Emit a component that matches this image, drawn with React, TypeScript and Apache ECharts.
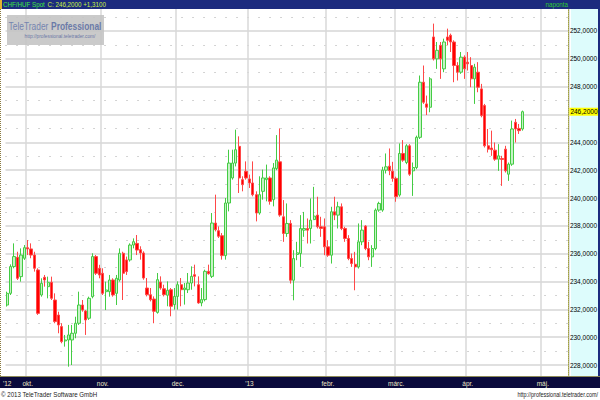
import React, { useEffect, useRef } from "react";
import * as echarts from "echarts";

// ---- trading calendar (weekdays between start and end, minus holidays) ----
const START_DATE = "2012-09-21";
const END_DATE = "2013-05-10";
const HOLIDAYS = ["2012-10-23"];

function buildDates(): string[] {
  const out: string[] = [];
  const d = new Date(START_DATE + "T00:00:00Z");
  const end = new Date(END_DATE + "T00:00:00Z");
  while (d <= end) {
    const wd = d.getUTCDay();
    const s = d.toISOString().slice(0, 10);
    if (wd !== 0 && wd !== 6 && HOLIDAYS.indexOf(s) < 0) out.push(s);
    d.setUTCDate(d.getUTCDate() + 1);
  }
  return out;
}
const dates = buildDates();

const MONTH_LABELS: Record<string, string> = {
  "2012-10": "okt.", "2012-11": "nov.", "2012-12": "dec.", "2013-01": "'13",
  "2013-02": "febr.", "2013-03": "márc.", "2013-04": "ápr.", "2013-05": "máj.",
};
const FIRST_LABEL = "'12";

// ---- OHLC (daily, CHF/HUF) ----
const open = [
  232.31, 233.15, 235.07, 235.74, 234.35, 235.67, 236.43, 236.34, 235.9, 234.83,
  233.03, 234.3, 233.63, 233.94, 232.67, 231.59, 230.76, 229.73, 229.8, 229.8,
  230.28, 231.0, 232.31, 231.88, 231.36, 232.91, 235.79, 234.95, 234.59, 233.27,
  233.27, 234.11, 233.15, 234.11, 236.03, 235.55, 235.55, 236.62, 236.74, 236.29,
  236.05, 233.53, 233.05, 232.74, 231.78, 233.96, 233.48, 233.01, 233.41, 232.34,
  232.93, 233.77, 233.41, 233.41, 233.89, 234.49, 233.77, 232.46, 232.7, 234.73,
  234.37, 238.2, 237.65, 237.29, 235.86, 239.64, 241.44, 242.51, 243.71, 241.32,
  241.92, 241.37, 241.08, 240.24, 238.92, 240.48, 241.32, 241.44, 239.88, 242.12,
  242.6, 238.65, 237.45, 238.17, 234.09, 235.94, 236.01, 237.69, 237.81, 237.81,
  238.45, 238.77, 237.93, 237.93, 236.49, 235.89, 239.01, 238.77, 239.37, 237.81,
  237.09, 235.65, 235.24, 235.05, 236.85, 237.98, 236.37, 235.77, 236.37, 239.13,
  239.13, 242.0, 242.29, 241.93, 241.41, 240.21, 243.2, 242.55, 243.75, 241.95,
  242.19, 244.36, 248.32, 246.76, 246.52, 251.57, 250.0, 250.97, 249.28, 251.57,
  251.69, 251.21, 249.52, 249.04, 250.12, 249.76, 249.52, 248.56, 249.04, 247.84,
  246.64, 243.75, 243.59, 243.44, 242.79, 242.84, 243.51, 241.71, 242.43, 245.44,
  245.0, 244.96,
];
const high = [
  233.27, 235.23, 236.74, 236.14, 236.38, 236.62, 236.98, 236.74, 236.14, 234.95,
  234.23, 234.47, 234.35, 234.35, 233.15, 231.83, 231.0, 230.16, 230.88, 230.88,
  231.47, 233.27, 232.67, 231.95, 232.91, 236.03, 235.9, 235.2, 234.95, 233.99,
  234.47, 234.23, 234.47, 236.38, 236.14, 235.79, 236.74, 237.1, 237.34, 236.53,
  236.17, 234.25, 233.53, 232.93, 234.61, 234.37, 233.77, 234.01, 233.53, 233.53,
  234.01, 234.25, 233.89, 234.61, 235.09, 235.21, 234.37, 233.53, 234.85, 235.21,
  238.92, 240.24, 237.96, 237.48, 240.0, 243.47, 243.47, 244.91, 244.43, 241.56,
  242.63, 241.68, 242.63, 240.48, 241.56, 242.04, 242.4, 241.56, 242.51, 244.52,
  245.0, 239.85, 239.61, 238.41, 236.25, 236.85, 238.77, 239.0, 238.53, 239.97,
  240.8, 240.09, 238.65, 238.53, 236.97, 239.37, 240.09, 239.73, 239.61, 237.93,
  237.33, 236.01, 236.13, 238.17, 238.41, 238.05, 236.85, 236.61, 239.25, 239.73,
  242.24, 243.2, 243.56, 242.6, 241.53, 243.92, 244.16, 243.87, 243.87, 242.55,
  244.48, 248.8, 249.52, 247.36, 248.68, 252.53, 251.21, 251.21, 251.45, 252.17,
  251.81, 251.33, 249.76, 250.49, 250.25, 250.49, 250.12, 249.64, 249.76, 248.2,
  246.76, 244.96, 244.84, 243.99, 243.87, 243.03, 243.75, 242.55, 245.56, 245.68,
  245.32, 246.28,
];
const low = [
  232.2, 233.03, 234.95, 234.11, 233.99, 235.55, 235.9, 235.67, 234.71, 231.6,
  232.91, 233.63, 232.79, 232.67, 231.0, 230.28, 229.56, 229.32, 227.88, 228.0,
  229.92, 230.88, 231.83, 230.16, 231.24, 232.79, 234.47, 234.23, 233.03, 231.95,
  232.91, 232.91, 232.31, 233.99, 232.67, 234.47, 235.43, 236.38, 235.9, 235.57,
  234.13, 232.93, 232.57, 231.0, 231.69, 233.41, 232.93, 232.22, 231.5, 231.98,
  231.98, 232.22, 232.34, 233.17, 233.41, 233.65, 232.4, 232.22, 232.57, 234.49,
  234.25, 237.6, 237.13, 235.57, 235.57, 239.04, 241.32, 242.27, 240.36, 240.48,
  241.32, 240.72, 240.12, 238.32, 238.8, 239.88, 239.76, 239.52, 239.4, 242.0,
  238.65, 236.85, 237.21, 233.85, 232.65, 235.53, 235.05, 237.21, 236.73, 236.73,
  238.41, 237.81, 237.21, 235.89, 235.77, 235.29, 238.41, 237.81, 237.69, 236.85,
  235.53, 235.05, 233.37, 234.93, 236.61, 236.25, 235.53, 235.05, 236.25, 239.01,
  239.01, 241.76, 241.64, 241.17, 239.73, 240.09, 242.6, 242.43, 241.59, 240.15,
  242.07, 244.24, 246.76, 245.96, 246.16, 249.88, 249.28, 248.56, 249.04, 250.97,
  250.49, 248.32, 248.44, 248.92, 248.56, 249.16, 247.96, 246.76, 247.6, 245.8,
  243.63, 243.27, 243.03, 242.67, 241.95, 240.87, 241.83, 241.23, 242.31, 243.99,
  244.6, 244.84,
];
const close = [
  233.15, 235.07, 235.79, 234.23, 235.9, 236.43, 236.34, 235.9, 234.95, 231.71,
  233.87, 234.11, 233.94, 232.79, 231.12, 230.88, 229.68, 229.8, 230.16, 230.28,
  231.0, 232.31, 231.95, 231.24, 232.79, 235.79, 234.59, 234.47, 233.15, 233.39,
  234.11, 233.03, 234.23, 236.03, 234.59, 234.71, 236.62, 236.86, 236.26, 236.05,
  234.25, 233.05, 232.69, 231.86, 234.13, 233.53, 233.05, 233.37, 232.22, 232.93,
  233.77, 233.41, 233.53, 233.89, 234.37, 234.37, 232.46, 232.7, 234.73, 234.56,
  238.2, 237.72, 237.25, 235.86, 239.64, 242.51, 242.51, 243.47, 241.44, 240.96,
  241.44, 241.08, 240.24, 238.92, 240.24, 241.44, 241.44, 239.76, 242.16, 242.72,
  238.77, 237.45, 238.17, 234.09, 235.65, 236.06, 237.81, 237.81, 237.69, 238.41,
  238.7, 237.93, 237.81, 236.49, 235.89, 239.01, 238.77, 239.37, 237.81, 237.09,
  235.65, 235.29, 235.05, 236.85, 237.69, 236.37, 235.77, 236.37, 239.13, 239.61,
  242.0, 242.24, 241.96, 241.41, 240.09, 243.2, 242.72, 243.75, 241.71, 242.19,
  244.36, 248.32, 246.88, 246.52, 248.56, 250.0, 250.61, 250.0, 251.21, 251.33,
  251.21, 249.52, 249.04, 250.12, 249.28, 249.64, 248.56, 249.4, 247.96, 245.92,
  243.75, 243.51, 243.47, 242.79, 243.03, 242.77, 241.95, 242.43, 244.96, 244.96,
  244.84, 246.2,
];
const CHANGE = 1.31;
const TICKER = "CHF/HUF Spot";
const PERIOD = "naponta";
const COPYRIGHT = "© 2013 TeleTrader Software GmbH";
const URL_TEXT = "http://professional.teletrader.com/";
const LOGO_A = "TeleTrader";
const LOGO_B = "Professional";

const FF = "'Liberation Sans', Arial, sans-serif";
const fmt = (v: number) => v.toFixed(4).replace(".", ",");

function isMonthStart(i: number): boolean {
  return i > 0 && dates[i].slice(0, 7) !== dates[i - 1].slice(0, 7);
}

export default function App() {
  const ref = useRef<HTMLDivElement>(null);
  useEffect(() => {
    if (!ref.current) return;
    const chart = echarts.init(ref.current, null, { renderer: "svg" });
    const ohlc = open.map((o, i) => [o, close[i], low[i], high[i]]);
    const last = close[close.length - 1];
    const gridTop = 3.16;
    const gridBottomPx = 392.84;
    chart.setOption({
      animation: false,
      backgroundColor: "transparent",
      grid: { left: 5, right: 29, top: gridTop, bottom: 400 - gridBottomPx },
      xAxis: [
        {
          type: "category",
          data: dates,
          boundaryGap: true,
          axisLine: { show: false },
          axisTick: { show: false },
          axisLabel: { show: false },
          splitLine: {
            show: true,
            interval: (i: number) => isMonthStart(i),
            lineStyle: { color: "#d8d8d8", width: 1.5 },
          },
        },
        {
          type: "category",
          data: dates,
          boundaryGap: true,
          position: "bottom",
          offset: -(gridBottomPx - 377),
          z: 200,
          axisLine: { show: false },
          axisTick: { show: false },
          splitLine: { show: false },
          axisLabel: {
            interval: (i: number) => i === 0 || isMonthStart(i),
            formatter: (v: string, i: number) =>
              i === 0 ? FIRST_LABEL : MONTH_LABELS[v.slice(0, 7)] || "",
            color: "#ece6c4",
            fontSize: 6.5,
            fontFamily: FF,
            margin: 2.5,
          },
        },
      ],
      yAxis: {
        type: "value",
        position: "right",
        min: 226,
        max: 254,
        interval: 2,
        axisLine: { show: true, lineStyle: { color: "#a0a040", type: [1, 1] } },
        axisTick: { show: false },
        axisLabel: {
          margin: 1.5,
          fontSize: 6.5,
          color: "#000",
          fontFamily: FF,
          formatter: (v: number) =>
            Math.abs(v - 246) < 1e-9 || v <= 226 || v >= 254 ? "" : fmt(v),
        },
        splitLine: { show: true, lineStyle: { color: "#d6d6d6", width: 1.5 } },
        minorTick: { show: false, splitNumber: 2 },
        minorSplitLine: { show: true, lineStyle: { color: "#a8a8a8", type: [1, 10], width: 1 } },
      },
      series: [
        {
          type: "candlestick",
          xAxisIndex: 0,
          data: ohlc,
          barWidth: 2.8,
          itemStyle: {
            color: "#c6f2c6",
            borderColor: "#44cc44",
            color0: "#ff0000",
            borderColor0: "#ff4848",
            borderWidth: 1,
          },
          markLine: {
            silent: true,
            symbol: ["none", "none"],
            data: [{ yAxis: last }],
            lineStyle: { color: "rgba(0,0,0,0)", width: 1, type: "solid" },
            label: {
              show: true,
              position: "end",
              formatter: fmt(last),
              backgroundColor: "#ffff00",
              color: "#000",
              fontSize: 6.5,
              fontFamily: FF,
              padding: [1, 1, 0, 1],
              distance: 1,
            },
          },
        },
      ],
      graphic: [
        // header
        { type: "rect", z: 100, shape: { x: 0, y: 0, width: 600, height: 9 }, style: { fill: "#1c2b7e" } },
        { type: "rect", z: 101, shape: { x: 0, y: 0, width: 2, height: 9 }, style: { fill: "#e0b030" } },
        {
          type: "text", z: 102, x: 3, y: 5, scaleX: 0.78,
          style: {
            text: "{a|" + TICKER + "} {b|C: " + fmt(last) + " +" + CHANGE.toFixed(4).replace(".", ",") + "}",
            verticalAlign: "middle",
            rich: {
              a: { fill: "#3fe83f", fontSize: 8, fontFamily: FF },
              b: { fill: "#c8f040", fontSize: 8, fontFamily: FF },
            },
          },
        },
        {
          type: "text", z: 102, x: 568, y: 5, scaleX: 0.78,
          style: { text: PERIOD, fill: "#2ecc2e", fontSize: 8, fontFamily: FF, align: "right", verticalAlign: "middle" },
        },
        // left border
        { type: "line", z: 100, shape: { x1: 0.5, y1: 9, x2: 0.5, y2: 377 }, style: { stroke: "#8a7a40", lineWidth: 1, lineDash: [1, 1] } },
        // right border
        { type: "rect", z: 100, shape: { x: 598, y: 0, width: 2, height: 389 }, style: { fill: "#1c2b7e" } },
        // logo box
        { type: "rect", z: 100, shape: { x: 7, y: 15, width: 97, height: 30 }, style: { fill: "#c4c4c4", opacity: 0.9 } },
        {
          type: "text", z: 101, x: 55, y: 26, scaleX: 0.8,
          style: {
            text: "{a|" + LOGO_A + "} {b|" + LOGO_B + "}",
            align: "center",
            verticalAlign: "middle",
            rich: {
              a: { fill: "#7484b0", fontSize: 10.5, fontFamily: FF },
              b: { fill: "#6a7aa8", fontSize: 10.5, fontFamily: FF, fontWeight: "bold" },
            },
          },
        },
        {
          type: "text", z: 101, x: 60, y: 36, scaleX: 0.8,
          style: { text: URL_TEXT, fill: "#6b77a6", fontSize: 6, fontFamily: FF, align: "center", verticalAlign: "middle" },
        },
        // bottom bar
        { type: "rect", z: 100, shape: { x: 0, y: 376, width: 600, height: 1 }, style: { fill: "#8d8a58" } },
        { type: "rect", z: 100, shape: { x: 0, y: 377, width: 600, height: 11 }, style: { fill: "#0a0a3c" } },
        // footer
        { type: "rect", z: 100, shape: { x: 0, y: 388, width: 600, height: 12 }, style: { fill: "#ffffff" } },
        {
          type: "text", z: 101, x: 1, y: 394, scaleX: 0.88,
          style: { text: COPYRIGHT, fill: "#222", fontSize: 7, fontFamily: FF, verticalAlign: "middle" },
        },
        {
          type: "text", z: 101, x: 598, y: 394, scaleX: 0.78,
          style: { text: URL_TEXT, fill: "#222", fontSize: 7, fontFamily: FF, align: "right", verticalAlign: "middle" },
        },
      ],
    });
    return () => chart.dispose();
  }, []);
  return (
    <div
      ref={ref}
      style={{
        position: "fixed",
        left: 0,
        top: 0,
        width: 600,
        height: 400,
        background: "linear-gradient(to right, #ffffff 571px, #ddfcfc 571px)",
      }}
    />
  );
}
